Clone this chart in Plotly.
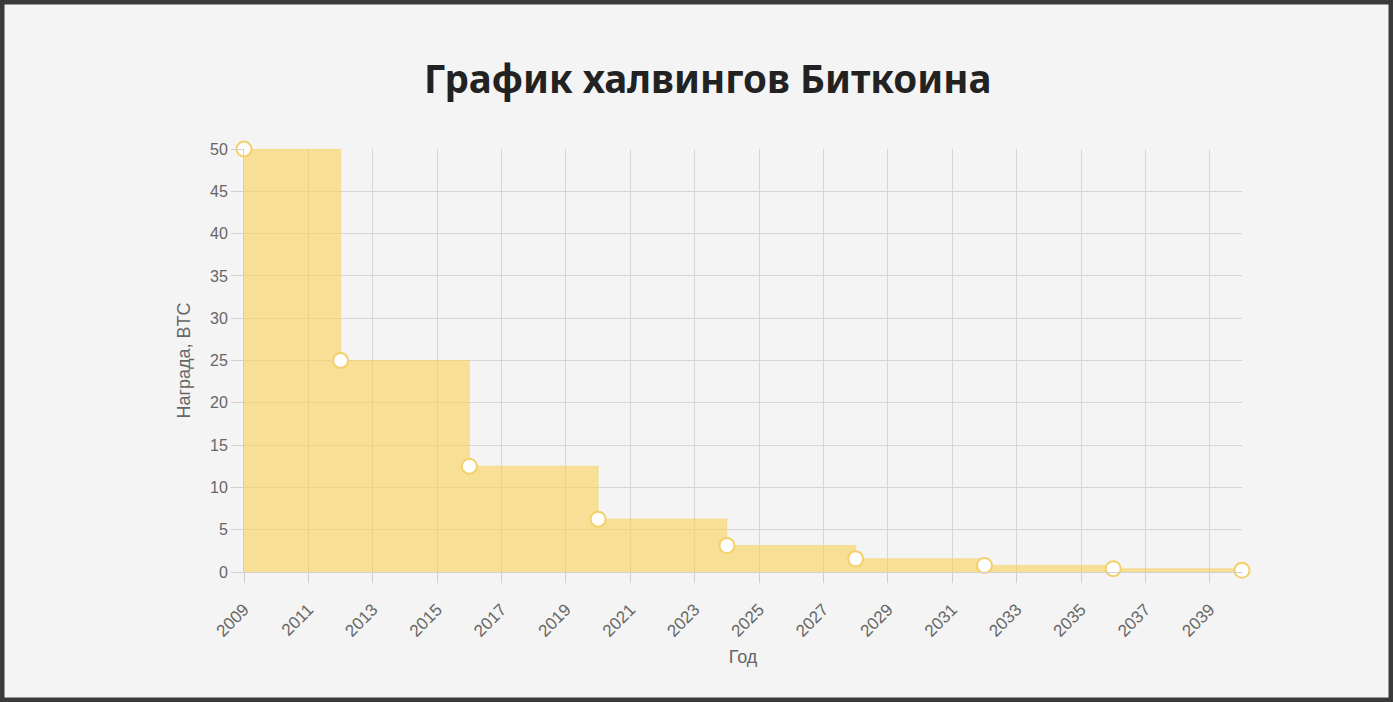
import plotly.graph_objects as go

years = [2009, 2012, 2016, 2020, 2024, 2028, 2032, 2036, 2040]
reward = [50, 25, 12.5, 6.25, 3.125, 1.5625, 0.78125, 0.390625, 0.1953125]
x_ticks = list(range(2009, 2041, 2))
y_ticks = list(range(0, 51, 5))

W, H = 1393, 702
L, R, T, B = 244, 151, 149, 130
pw, ph = W - L - R, H - T - B

fig = go.Figure()
fig.add_trace(go.Scatter(
    x=years, y=reward, mode="lines+markers", line_shape="hv",
    line=dict(color="rgba(249,209,86,0.45)", width=1),
    fill="tozeroy", fillcolor="rgba(249,209,86,0.6)",
    marker=dict(size=15, color="white", line=dict(color="#f3d06a", width=2)),
    cliponaxis=False, showlegend=False, hoverinfo="x+y",
))

xtick_font = dict(family="Liberation Sans, Arial, sans-serif", size=17, color="#666")
ytick_font = dict(family="Liberation Sans, Arial, sans-serif", size=16, color="#666")
title_font = dict(family="Liberation Sans, Arial, sans-serif", size=18, color="#666")
fig.update_layout(
    width=W, height=H,
    margin=dict(l=L, r=R, t=T, b=B),
    paper_bgcolor="#f4f4f4", plot_bgcolor="rgba(0,0,0,0)",
    title=dict(text="<b>График халвингов Биткоина</b>", x=0.508, xref="container",
               y=1 - 80 / H, yref="container", xanchor="center", yanchor="middle",
               font=dict(family="Noto Sans, Open Sans, sans-serif", size=38.5, color="#222")),
    xaxis=dict(range=[2009, 2040], tickvals=x_ticks, ticktext=[str(v) for v in x_ticks],
               tickangle=-45, tickfont=xtick_font, ticks="outside", ticklen=10, tickcolor="#d0d0d0",
               ticklabelstandoff=10,
               showgrid=True, gridcolor="#d6d6d6", gridwidth=1, zeroline=False,
               showline=True, linecolor="#d0d0d0",
               title=dict(text="Год", font=title_font, standoff=10)),
    yaxis=dict(range=[0, 50], tickvals=y_ticks, tickfont=ytick_font, ticks="outside", ticklen=12,
               tickcolor="#d0d0d0", showgrid=True, gridcolor="#d6d6d6", gridwidth=1, zeroline=False,
               showline=True, linecolor="#d0d0d0",
               title=dict(text="Награда, BTC", font=title_font, standoff=14)),
    shapes=[dict(type="rect", xref="paper", yref="paper",
                 x0=(2 - L) / pw, x1=(W - 2 - L) / pw,
                 y0=-(B - 2) / ph, y1=(H - 2 - B) / ph,
                 line=dict(color="#3a3a3a", width=5), layer="above")],
)
fig.write_html("out.html", config={"displayModeBar": False},
               post_script="document.body.style.margin='0';")
